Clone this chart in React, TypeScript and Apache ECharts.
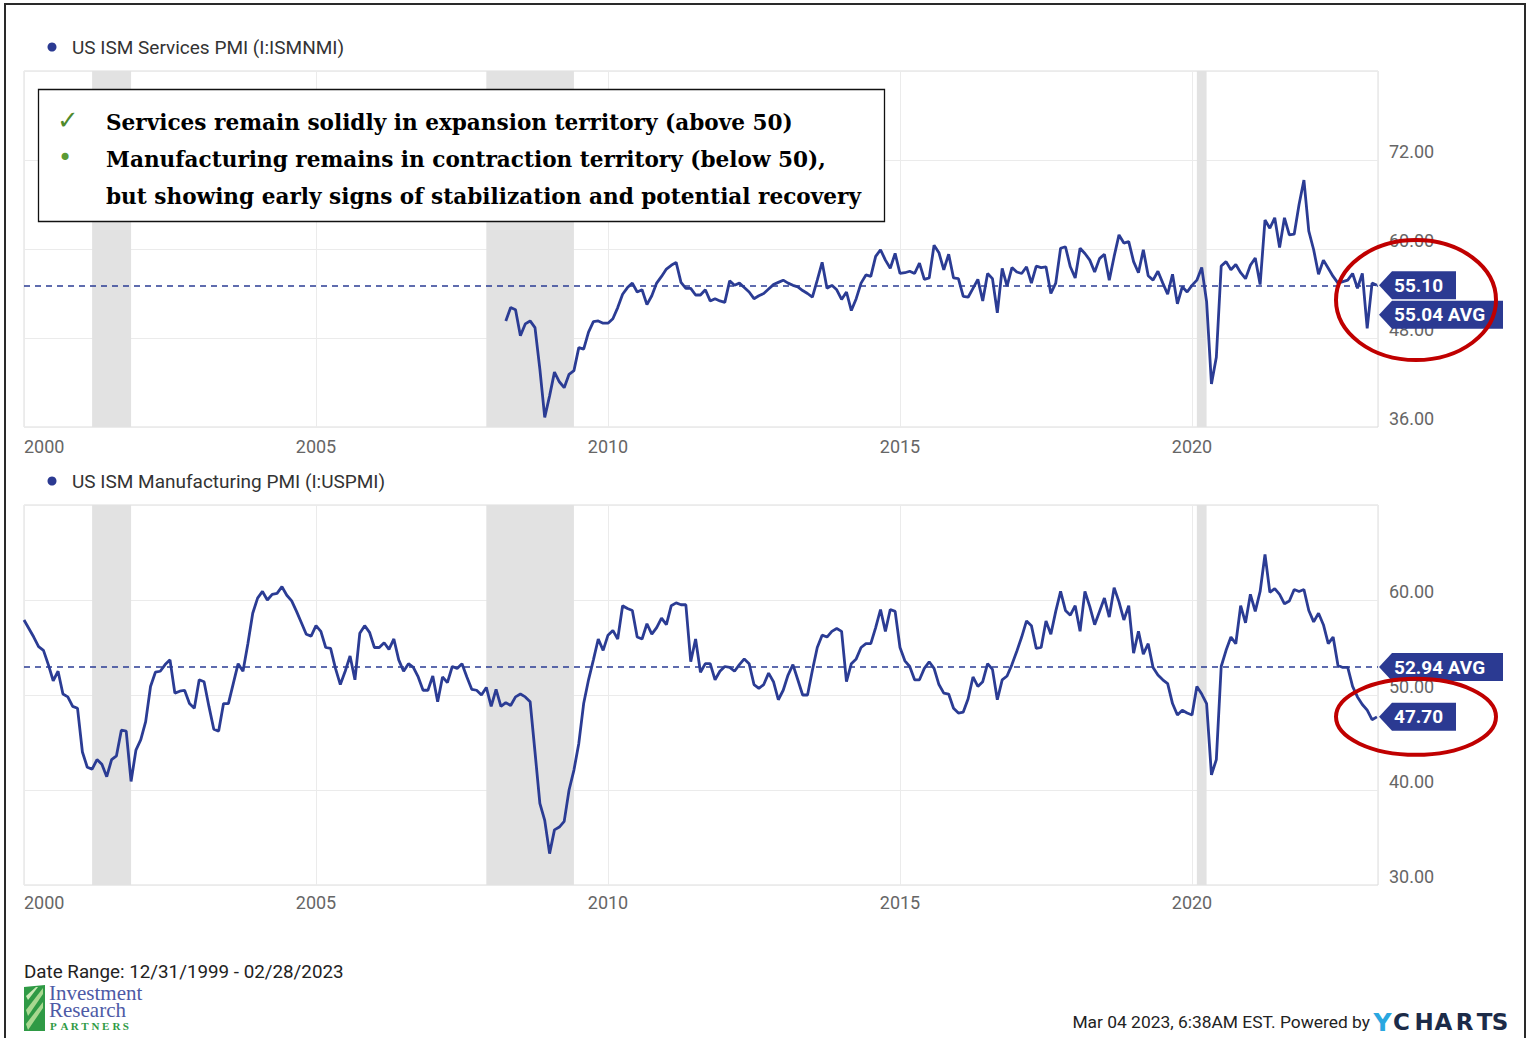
import React, { useEffect, useRef } from "react";
import * as echarts from "echarts";

// ---------------- DATA ----------------
// Month-end observations. Manufacturing starts Dec 1999, Services starts Mar 2008.
const MFG_START = "1999-12";
const SVC_START = "2008-03";

// US ISM Manufacturing PMI (I:USPMI)
const mfg1 = [57.9, 57.0, 56.1, 55.1, 54.7, 53.2, 51.5, 52.5, 50.1, 49.8, 48.8, 48.6]; // Dec99-Nov00
const mfg2 = [44.0, 42.4, 42.2, 43.2, 42.7, 41.4, 43.2, 43.6, 46.3, 46.2, 40.9, 44.2]; // Dec00-Nov01
const mfg3 = [45.3, 47.2, 50.9, 52.4, 52.5, 53.2, 53.7, 50.2, 50.4, 50.5, 49.1, 48.6];
const mfg4 = [51.6, 51.4, 48.8, 46.4, 46.2, 49.1, 49.1, 51.2, 53.3, 52.5, 55.4, 58.6];
const mfg5 = [60.2, 60.9, 60.0, 60.6, 60.7, 61.4, 60.5, 59.9, 58.8, 57.6, 56.4, 56.2];
const mfg6 = [57.3, 56.7, 55.0, 54.9, 52.8, 51.1, 52.5, 54.1, 51.6, 56.5, 57.3, 56.6];
const mfg7 = [55.0, 55.0, 55.5, 54.8, 55.9, 53.7, 52.5, 53.3, 52.9, 51.9, 50.5, 50.5];
const mfg8 = [52.0, 49.3, 51.9, 51.3, 53.0, 52.8, 53.3, 51.9, 50.6, 50.5, 50.0, 50.8];
const mfg9 = [48.8, 50.6, 48.8, 49.2, 48.9, 49.8, 50.1, 49.8, 49.3, 44.0, 38.6, 36.8];
const mfg10 = [33.3, 35.8, 36.1, 36.7, 40.0, 42.1, 44.9, 49.1, 51.6, 53.7, 55.9, 54.7];
const mfg11 = [56.3, 56.8, 55.9, 59.4, 59.1, 58.9, 56.1, 55.9, 57.5, 56.4, 57.1, 58.1];
const mfg12 = [57.4, 59.4, 59.7, 59.5, 59.5, 53.5, 55.9, 52.4, 53.3, 53.3, 51.6, 52.5];
const mfg13 = [53.0, 52.9, 52.5, 53.2, 53.8, 53.3, 51.1, 50.7, 51.1, 52.3, 51.4, 49.5];
const mfg14 = [50.5, 52.1, 53.2, 51.6, 50.0, 50.0, 52.6, 55.0, 56.3, 56.1, 56.7, 57.0];
const mfg15 = [56.7, 51.4, 53.3, 53.8, 55.0, 55.4, 55.4, 57.1, 59.0, 56.7, 59.0, 58.8];
const mfg16 = [55.0, 53.6, 53.0, 51.6, 51.6, 52.8, 53.5, 52.8, 51.1, 50.2, 50.1, 48.6];
const mfg17 = [48.1, 48.2, 49.6, 51.9, 50.9, 51.4, 53.3, 52.7, 49.5, 51.6, 52.0, 53.2];
const mfg18 = [54.6, 56.1, 57.8, 57.3, 54.9, 55.0, 57.8, 56.4, 58.8, 60.9, 58.9, 58.4];
const mfg19 = [59.4, 56.7, 60.9, 59.3, 57.4, 58.8, 60.2, 58.2, 61.3, 59.8, 57.9, 59.4];
const mfg20 = [54.4, 56.7, 54.3, 55.4, 52.9, 52.1, 51.6, 51.2, 49.1, 47.9, 48.4, 48.1];
const mfg21 = [47.9, 50.9, 50.1, 49.1, 41.6, 43.2, 53.0, 54.7, 56.1, 55.4, 59.4, 57.6];
const mfg22 = [60.6, 58.8, 60.9, 64.8, 60.8, 61.2, 60.6, 59.6, 59.9, 61.1, 60.9, 61.1];
const mfg23 = [58.9, 57.7, 58.6, 57.4, 55.4, 56.1, 53.1, 52.9, 52.9, 50.9, 49.8, 49.0];
const mfg24 = [48.4, 47.4, 47.7]; // Dec22-Feb23

// US ISM Services PMI (I:ISMNMI)
const svc2008 = [50.3, 52.1, 51.8, 48.3, 49.9, 50.3, 49.4, 43.8, 37.3, 40.2]; // Mar-Dec 2008
const svc2009 = [43.4, 42.1, 41.3, 43.1, 43.6, 46.7, 46.5, 48.8, 50.2, 50.3, 50.0, 50.0];
const svc2010 = [50.6, 52.1, 53.9, 54.8, 55.4, 54.2, 54.5, 52.5, 53.7, 55.4, 56.3, 57.3];
const svc2011 = [57.8, 58.2, 55.5, 54.7, 54.7, 53.8, 53.8, 54.5, 53.0, 53.3, 53.0, 52.8];
const svc2012 = [55.7, 55.1, 55.4, 54.8, 54.2, 53.3, 53.7, 54.0, 54.6, 55.2, 55.5, 55.8];
const svc2013 = [55.4, 55.1, 54.9, 54.4, 54.0, 53.5, 55.8, 58.2, 54.7, 55.1, 54.5, 53.2];
const svc2014 = [54.2, 51.7, 53.3, 55.4, 56.5, 56.3, 59.0, 59.9, 58.5, 57.4, 59.4, 56.7];
const svc2015 = [56.8, 57.0, 56.7, 58.1, 55.9, 56.1, 60.5, 59.5, 57.2, 59.3, 56.1, 56.0];
const svc2016 = [53.6, 53.5, 54.7, 55.9, 53.0, 56.7, 56.0, 51.4, 57.4, 55.0, 57.5, 56.9];
const svc2017 = [56.7, 57.6, 55.4, 57.7, 57.5, 57.6, 54.0, 55.4, 60.1, 60.3, 57.6, 56.1];
const svc2018 = [60.1, 59.4, 58.5, 56.9, 58.7, 59.3, 55.8, 59.0, 61.9, 60.8, 61.0, 58.3];
const svc2019 = [56.8, 59.9, 56.4, 55.8, 57.0, 55.4, 53.9, 56.6, 52.6, 54.9, 54.2, 55.1];
const svc2020 = [55.8, 57.5, 52.9, 41.8, 45.4, 57.7, 58.3, 57.2, 57.9, 56.8, 56.0, 57.8];
const svc2021 = [58.8, 55.2, 63.9, 62.8, 64.2, 60.2, 64.2, 61.9, 62.0, 66.0, 69.3, 62.4];
const svc2022 = [59.9, 56.6, 58.5, 57.4, 56.3, 55.4, 55.6, 55.8, 56.7, 54.7, 56.7, 49.3];
const svc2023 = [55.4, 55.1];

const SVC_AVG = 55.04;
const MFG_AVG = 52.94;

// Recessions (start month, end month)
const recessions: [string, string][] = [
  ["2001-03", "2001-11"],
  ["2007-12", "2009-06"],
  ["2020-02", "2020-04"],
];

const xTickYears = [2000, 2005, 2010, 2015, 2020];
const X_MIN = 2000;
const X_MAX = 2023.185; // ~ Mar 8, 2023
const svcTicks = { min: 36, max: 84, interval: 12 };
const mfgTicks = { min: 30, max: 70, interval: 10 };

const SVC_NAME = "US ISM Services PMI (I:ISMNMI)";
const MFG_NAME = "US ISM Manufacturing PMI (I:USPMI)";

// ---------------- HELPERS ----------------
function parseYM(s: string) {
  const [y, m] = s.split("-").map(Number);
  return { y, m };
}
// month-end as decimal year (Dec 31 1999 -> 2000.0)
function monthEndYear(y: number, m: number) {
  return y + m / 12;
}
function monthStartYear(s: string) {
  const { y, m } = parseYM(s);
  return y + (m - 1) / 12;
}
function buildSeries(start: string, values: number[]) {
  const { y, m } = parseYM(start);
  return values.map((v, i) => {
    const mm = m + i;
    const yy = y + Math.floor((mm - 1) / 12);
    const mo = ((mm - 1) % 12) + 1;
    return [monthEndYear(yy, mo), v];
  });
}

const mfgValues = [
  ...mfg1, ...mfg2, ...mfg3, ...mfg4, ...mfg5, ...mfg6, ...mfg7, ...mfg8,
  ...mfg9, ...mfg10, ...mfg11, ...mfg12, ...mfg13, ...mfg14, ...mfg15, ...mfg16,
  ...mfg17, ...mfg18, ...mfg19, ...mfg20, ...mfg21, ...mfg22, ...mfg23, ...mfg24,
];
const svcValues = [
  ...svc2008, ...svc2009, ...svc2010, ...svc2011, ...svc2012, ...svc2013, ...svc2014,
  ...svc2015, ...svc2016, ...svc2017, ...svc2018, ...svc2019, ...svc2020, ...svc2021,
  ...svc2022, ...svc2023,
];

const LINE = "#2b3c94";
const TAG = "#2b3a92";
const FONT = "Roboto";

export default function App() {
  const ref = useRef<HTMLDivElement>(null);

  useEffect(() => {
    if (!ref.current) return;
    const chart = echarts.init(ref.current, undefined, { renderer: "svg" });

    const markAreaData = recessions.map(([a, b]) => [
      { xAxis: monthStartYear(a) },
      { xAxis: monthStartYear(b) },
    ]);

    const xAxisCommon = (gridIndex: number) => ({
      type: "value",
      gridIndex,
      min: X_MIN,
      max: X_MAX,
      interval: 5,
      axisLine: { show: false },
      axisTick: { show: false },
      splitLine: { show: true, lineStyle: { color: "#ebebeb", width: 1 } },
      axisLabel: {
        show: true,
        color: "#666",
        fontSize: 18,
        fontFamily: FONT,
        margin: gridIndex === 0 ? 10 : 8,
        showMaxLabel: false,
        alignMinLabel: "left",
        formatter: (v: number) => (xTickYears.includes(Math.round(v)) ? String(Math.round(v)) : ""),
      },
    });

    const yAxisCommon = (gridIndex: number, t: { min: number; max: number; interval: number }) => ({
      type: "value",
      gridIndex,
      position: "right",
      min: t.min,
      max: t.max,
      interval: t.interval,
      axisLine: { show: false },
      axisTick: { show: false },
      splitLine: { show: true, lineStyle: { color: "#ebebeb", width: 1 } },
      axisLabel: {
        color: "#666",
        fontSize: 18,
        fontFamily: FONT,
        margin: 11,
        verticalAlign: "bottom",
        lineHeight: 18,
        showMaxLabel: false,
        formatter: (v: number) => v.toFixed(2),
      },
    });

    const lineSeries = (idx: number, data: number[][], avg: number, name: string) => ({
      type: "line",
      name,
      xAxisIndex: idx,
      yAxisIndex: idx,
      data,
      symbol: "none",
      lineStyle: { color: LINE, width: 2.8 },
      itemStyle: { color: LINE },
      z: 5,
      markArea: {
        silent: true,
        itemStyle: { color: "#e2e2e2" },
        data: markAreaData,
      },
      markLine: {
        silent: true,
        symbol: "none",
        label: { show: false },
        lineStyle: { color: LINE, width: 1.5, type: [6, 5] },
        data: [{ yAxis: avg }],
      },
    });

    chart.setOption({
      animation: false,
      backgroundColor: "#ffffff",
      textStyle: { fontFamily: FONT },
      grid: [
        { left: 24, top: 71, width: 1354, height: 356, show: true, borderColor: "#dcdcdc", borderWidth: 1, outerBoundsMode: "none" },
        { left: 24, top: 505, width: 1354, height: 380, show: true, borderColor: "#dcdcdc", borderWidth: 1, outerBoundsMode: "none" },
      ],
      xAxis: [xAxisCommon(0), xAxisCommon(1)],
      yAxis: [yAxisCommon(0, svcTicks), yAxisCommon(1, mfgTicks)],
      series: [
        lineSeries(0, buildSeries(SVC_START, svcValues), SVC_AVG, SVC_NAME),
        lineSeries(1, buildSeries(MFG_START, mfgValues), MFG_AVG, MFG_NAME),
      ],
    });

    // ---- value tags on the right, positioned from the axes ----
    const rightX = chart.convertToPixel({ xAxisIndex: 0 }, X_MAX) as number;
    const makeTags = (
      yAxisIndex: number,
      items: { value: number; text: string; wide: boolean }[]
    ) => {
      const arr = items
        .map((it) => ({ ...it, y: chart.convertToPixel({ yAxisIndex }, it.value) as number }))
        .sort((a, b) => a.y - b.y);
      for (let i = 1; i < arr.length; i++) {
        if (arr[i].y < arr[i - 1].y + 29.5) arr[i].y = arr[i - 1].y + 29.5;
      }
      const els: any[] = [];
      arr.forEach((it) => {
        const tip = rightX + 1;
        const bx = tip + 13;
        const w = it.wide ? 111 : 64;
        const h = 14;
        els.push({
          type: "polygon",
          shape: {
            points: [
              [tip, it.y],
              [bx, it.y - h],
              [bx + w, it.y - h],
              [bx + w, it.y + h],
              [bx, it.y + h],
            ],
          },
          style: { fill: TAG },
          z: 50,
        });
        els.push({
          type: "text",
          x: bx + 2,
          y: it.y,
          style: {
            text: it.text,
            fill: "#ffffff",
            fontSize: 19,
            fontWeight: "bold",
            fontFamily: FONT,
            align: "left",
            verticalAlign: "middle",
            textAlign: "left",
            textVerticalAlign: "middle",
          },
          z: 51,
        });
      });
      return { els, ys: arr.map((a) => a.y) };
    };

    const svcLast = svcValues[svcValues.length - 1];
    const mfgLast = mfgValues[mfgValues.length - 1];
    const topTags = makeTags(0, [
      { value: svcLast, text: svcLast.toFixed(2), wide: false },
      { value: SVC_AVG, text: SVC_AVG.toFixed(2) + " AVG", wide: true },
    ]);
    const botTags = makeTags(1, [
      { value: mfgLast, text: mfgLast.toFixed(2), wide: false },
      { value: MFG_AVG, text: MFG_AVG.toFixed(2) + " AVG", wide: true },
    ]);
    const topCy = (topTags.ys[0] + topTags.ys[1]) / 2;
    const botLastY = chart.convertToPixel({ yAxisIndex: 1 }, mfgLast) as number;

    const txt = (x: number, y: number, text: string, extra: any = {}) => ({
      type: "text",
      x,
      y,
      z: 60,
      style: {
        text,
        fill: "#333",
        fontSize: 19,
        fontFamily: FONT,
        align: "left",
        verticalAlign: "middle",
        textAlign: "left",
        textVerticalAlign: "middle",
        ...extra,
      },
    });

    const annFont = { fontFamily: "DejaVu Serif", fontWeight: "bold", fontSize: 21.6, fill: "#000" };

    const ycharts = ["C", "H", "A", "R", "T", "S"];
    const ychartsX = [1401.5, 1424, 1443.5, 1464.5, 1484.5, 1500];
    const partners = "PARTNERS".split("");

    const graphics: any[] = [
      // outer frame
      {
        type: "rect",
        shape: { x: 5, y: 4, width: 1520, height: 1100 },
        style: { fill: "none", stroke: "#2a2a2a", lineWidth: 2 },
        z: 100,
        silent: true,
      },
      // legends
      { type: "circle", shape: { cx: 52, cy: 47, r: 4.5 }, style: { fill: TAG }, z: 60 },
      txt(72, 47, SVC_NAME),
      { type: "circle", shape: { cx: 52, cy: 481, r: 4.5 }, style: { fill: TAG }, z: 60 },
      txt(72, 481, MFG_NAME),
      // annotation box
      {
        type: "rect",
        shape: { x: 38.5, y: 89.5, width: 846, height: 132 },
        style: { fill: "#ffffff", stroke: "#111", lineWidth: 1.3 },
        z: 70,
      },
      {
        type: "text", x: 68, y: 120, z: 71,
        style: { text: "\u2713", fill: "#4f8a2c", fontSize: 26, fontFamily: "DejaVu Sans", align: "center", verticalAlign: "middle", textAlign: "center", textVerticalAlign: "middle" },
      },
      {
        type: "text", x: 65, y: 158, z: 71,
        style: { text: "\u2022", fill: "#5b9a35", fontSize: 24, fontFamily: "DejaVu Sans", align: "center", verticalAlign: "middle", textAlign: "center", textVerticalAlign: "middle" },
      },
      { ...txt(106, 122, "Services remain solidly in expansion territory (above 50)", annFont), z: 71 },
      { ...txt(106, 159, "Manufacturing remains in contraction territory (below 50),", annFont), z: 71 },
      { ...txt(106, 196, "but showing early signs of stabilization and potential recovery", annFont), z: 71 },
      // tags
      ...topTags.els,
      ...botTags.els,
      // red ellipses
      {
        type: "ellipse",
        shape: { cx: rightX + 38, cy: topCy, rx: 80, ry: 60 },
        style: { fill: "none", stroke: "#c00000", lineWidth: 4 },
        z: 80,
      },
      {
        type: "ellipse",
        shape: { cx: rightX + 38, cy: botLastY, rx: 80, ry: 38 },
        style: { fill: "none", stroke: "#c00000", lineWidth: 4 },
        z: 80,
      },
      // footer
      txt(24, 972, "Date Range: 12/31/1999 - 02/28/2023", { fill: "#222", fontSize: 18.8 }),
      txt(1370, 1022, "Mar 04 2023, 6:38AM EST. Powered by", {
        fill: "#222", fontSize: 17.4, align: "right", textAlign: "right",
      }),
      txt(1382.5, 1022, "Y", {
        fill: "#2aa7e0", fontSize: 25, fontWeight: "bold", fontFamily: "DejaVu Sans",
        align: "center", textAlign: "center",
      }),
      ...ycharts.map((c, i) =>
        txt(ychartsX[i], 1022, c, {
          fill: "#1c2b48", fontSize: 23, fontWeight: "bold", fontFamily: "DejaVu Sans",
          align: "center", textAlign: "center",
        })
      ),
      // Investment Research Partners logo
      {
        type: "polygon",
        shape: { points: [[24, 987], [45, 985], [45, 1031], [24, 1031]] },
        style: { fill: "#2f9a45" },
        z: 60,
      },
      {
        type: "polygon",
        shape: { points: [[26, 1010], [43, 988], [43, 994], [28, 1016]] },
        style: { fill: "#a8d890" },
        z: 61,
      },
      {
        type: "polygon",
        shape: { points: [[26, 1024], [43, 1002], [43, 1008], [28, 1030]] },
        style: { fill: "#a8d890" },
        z: 61,
      },
      {
        type: "polygon",
        shape: { points: [[26, 996], [36, 987], [38, 987], [28, 1000]] },
        style: { fill: "#c9e8b4" },
        z: 61,
      },
      txt(49, 993, "Investment", { fill: "#4d5aa6", fontSize: 21, lineHeight: 16, fontFamily: "Liberation Serif" }),
      txt(49, 1010, "Research", { fill: "#4d5aa6", fontSize: 21, lineHeight: 16, fontFamily: "Liberation Serif" }),
      ...partners.map((c, i) =>
        txt(50 + i * 10.4, 1026, c, {
          fill: "#2f9a45", fontSize: 11, lineHeight: 11, fontFamily: "Liberation Serif", fontWeight: "bold",
        })
      ),
    ];

    chart.setOption({ graphic: graphics });

    return () => chart.dispose();
  }, []);

  return (
    <div
      ref={ref}
      style={{ position: "absolute", left: 0, top: 0, width: 1530, height: 1038, background: "#fff" }}
    />
  );
}
